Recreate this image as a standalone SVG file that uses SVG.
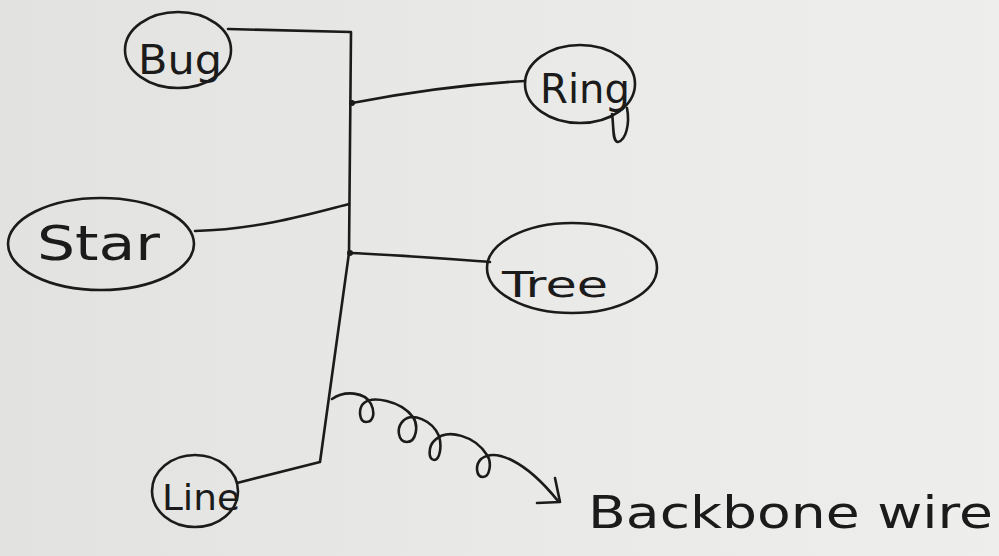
<svg xmlns="http://www.w3.org/2000/svg" width="999" height="556" viewBox="0 0 999 556">
  <defs>
    <linearGradient id="paper" x1="0" y1="0" x2="1" y2="0">
      <stop offset="0" stop-color="#e2e2e0"/>
      <stop offset="0.5" stop-color="#e9e9e7"/>
      <stop offset="1" stop-color="#eeeeec"/>
    </linearGradient>
  </defs>
  <style>
    .ink { fill: none; stroke: #1b1b1b; stroke-width: 2.6; stroke-linecap: round; stroke-linejoin: round; }
    .label { font-family: "DejaVu Sans", "Liberation Sans", sans-serif; fill: #1b1b1b; }
  </style>

  <rect width="999" height="556" fill="url(#paper)"/>

  <!-- backbone and branches -->
  <g id="connectors">
    <path class="ink" d="M228,29 L351,32 L349,253 L320,462 L237,483"/>
    <path class="ink" d="M352,103 C420,90 470,84 525,81"/>
    <path class="ink" d="M195,231 C260,229 310,214 349,204"/>
    <path class="ink" d="M350,253 C400,255 450,259 490,262"/>
    <circle cx="352" cy="103" r="3" fill="#1b1b1b"/>
    <circle cx="350" cy="253" r="3" fill="#1b1b1b"/>
  </g>

  <g id="bus">
    <ellipse class="ink" cx="178" cy="50" rx="53" ry="38"/>
    <text class="label" x="138" y="74" font-size="40" textLength="84" lengthAdjust="spacingAndGlyphs">Bug</text>
  </g>

  <g id="ring">
    <ellipse class="ink" cx="580" cy="84" rx="55" ry="39"/>
    <path class="ink" d="M612,114 C614,126 612,142 618,142 C626,140 630,124 627,108"/>
    <text class="label" x="540" y="103" font-size="40" textLength="90" lengthAdjust="spacingAndGlyphs">Ring</text>
  </g>

  <g id="star">
    <ellipse class="ink" cx="101" cy="244" rx="93" ry="46"/>
    <text class="label" x="37" y="260" font-size="48" textLength="123" lengthAdjust="spacingAndGlyphs">Star</text>
  </g>

  <g id="tree">
    <ellipse class="ink" cx="572" cy="268" rx="85" ry="45"/>
    <text class="label" x="502" y="297" font-size="36" textLength="106" lengthAdjust="spacingAndGlyphs">Tree</text>
  </g>

  <g id="line">
    <ellipse class="ink" cx="195" cy="491" rx="43" ry="36"/>
    <text class="label" x="162" y="510" font-size="36" textLength="78" lengthAdjust="spacingAndGlyphs">Line</text>
  </g>

  <!-- coiled pointer to the backbone note -->
  <g id="pointer">
    <path class="ink" d="M332,399 C345,390 365,392 371,404 C375,412 374,422 366,422 C359,422 358,408 364,403 C372,396 400,400 413,417 C419,426 416,442 407,442 C398,442 396,428 403,421 C412,412 432,420 439,436 C442,446 440,460 434,460 C428,460 428,446 435,440 C448,428 475,436 487,455 C492,462 490,477 483,477 C476,477 475,465 481,459 C495,448 525,460 558,501"/>
    <path class="ink" d="M537,503 L560,502 L555,478"/>
  </g>

  <g id="backbone-note">
    <text class="label" x="588" y="528" font-size="44" textLength="405" lengthAdjust="spacingAndGlyphs">Backbone wire</text>
  </g>
</svg>
